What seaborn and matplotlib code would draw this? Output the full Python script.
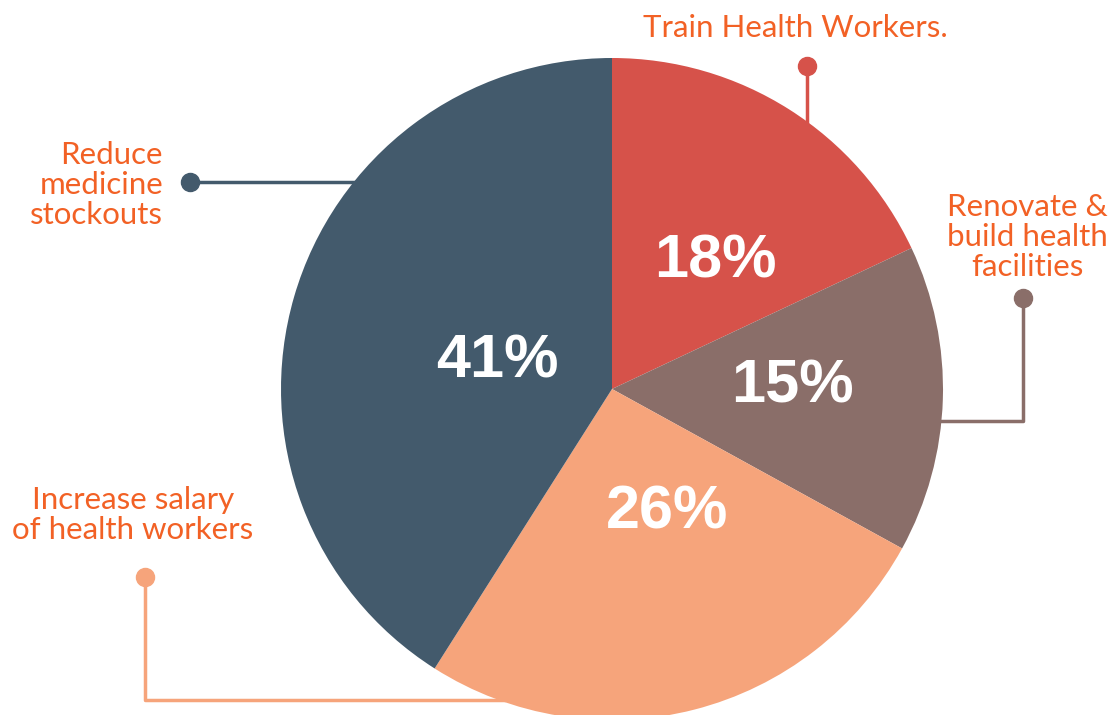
import matplotlib
matplotlib.use("Agg")
import matplotlib.pyplot as plt
import seaborn as sns

categories = ["Train Health Workers.", "Renovate &\nbuild health\nfacilities",
              "Increase salary\nof health workers", "Reduce\nmedicine\nstockouts"]
values = [18, 15, 26, 41]
pct_labels = ["18%", "15%", "26%", "41%"]

sns.set_theme(style="white")
colors = sns.color_palette(["#D6524A", "#8A6E69", "#F6A47B", "#435A6C"])
label_color = "#F26125"
plt.rcParams['font.family'] = ['Lato', 'DejaVu Sans']

W, H = 1117, 715
fig = plt.figure(figsize=(W / 100, H / 100), dpi=100)
ax = fig.add_axes([0, 0, 1, 1])

cx, cy, R = 612, H - 389, 331
wedges, _ = ax.pie(values, colors=colors, startangle=90, counterclock=False,
                   center=(cx, cy), radius=R, frame=True,
                   wedgeprops=dict(linewidth=0))
ax.set_xlim(0, W)
ax.set_ylim(0, H)
ax.set_aspect('equal')
ax.axis('off')
for w in wedges:
    w.set_zorder(2)

# percentage labels
pct_pos = [(715, 262), (792, 387), (667, 513), (497, 362)]
for (px, py), t in zip(pct_pos, pct_labels):
    ax.text(px, H - py, t, color="white", fontsize=44, fontweight="bold",
            family=["Liberation Sans", "DejaVu Sans"], ha="center", va="center", zorder=4)

lw = 2.5
ms = 13
fs = 22.5
ls = 1.08
# Train Health Workers
c = colors[0]
ax.plot([807, 807], [H - 66, H - 125], color=c, lw=lw, solid_capstyle='butt', zorder=1)
ax.plot([807], [H - 66], 'o', color=c, ms=ms, zorder=3)
ax.text(795, H - 28, categories[0], color=label_color, fontsize=fs, ha="center", va="center")

# Renovate
c = colors[1]
ax.plot([1023, 1023, 935], [H - 298, H - 421, H - 421], color=c, lw=lw, zorder=1)
ax.plot([1023], [H - 298], 'o', color=c, ms=ms, zorder=3)
ax.text(1027, H - 237, categories[1], color=label_color, fontsize=fs, ha="center", va="center",
        linespacing=ls)

# Increase salary
c = colors[2]
ax.plot([145, 145, 505], [H - 577, H - 700, H - 700], color=c, lw=lw, zorder=1)
ax.plot([145], [H - 577], 'o', color=c, ms=ms, zorder=3)
ax.text(133, H - 515, categories[2], color=label_color, fontsize=fs, ha="center", va="center",
        linespacing=ls)

# Reduce medicine
c = colors[3]
ax.plot([190, 360], [H - 182, H - 182], color=c, lw=lw, zorder=1)
ax.plot([190], [H - 182], 'o', color=c, ms=ms, zorder=3)
ax.text(163, H - 185, categories[3], color=label_color, fontsize=fs, ha="right", va="center",
        linespacing=ls)

fig.savefig("out.png", dpi=100, facecolor="white")
